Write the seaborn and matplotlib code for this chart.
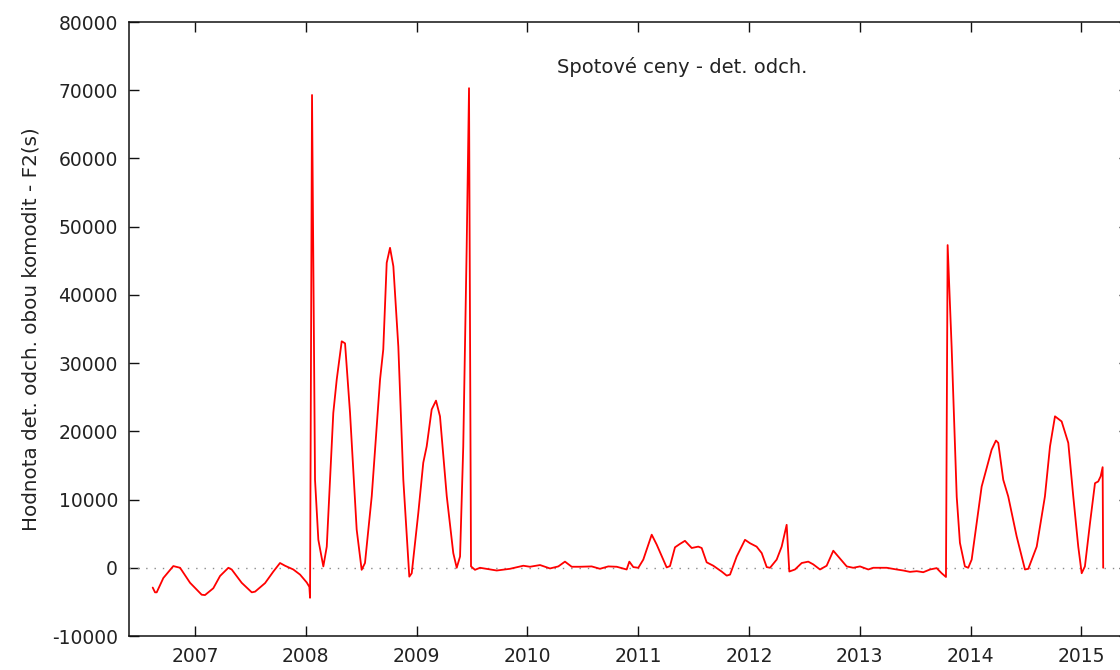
import numpy as np
import pandas as pd
import matplotlib
matplotlib.use("Agg")
import matplotlib.pyplot as plt
import seaborn as sns

# Time axis in decimal years and the detrended deviation F2(s)
years = [
    2006.618, 2006.639, 2006.654, 2006.714, 2006.804, 2006.865, 2006.955,
    2007.060, 2007.090, 2007.165, 2007.226, 2007.301, 2007.331, 2007.421,
    2007.512, 2007.542, 2007.632, 2007.707, 2007.767, 2007.812, 2007.887,
    2007.948, 2008.008, 2008.032, 2008.038, 2008.056, 2008.083, 2008.113,
    2008.158, 2008.189, 2008.248, 2008.279, 2008.324, 2008.354, 2008.399,
    2008.459, 2008.504, 2008.534, 2008.595, 2008.670, 2008.699, 2008.730,
    2008.760, 2008.790, 2008.835, 2008.880, 2008.934, 2008.956, 2009.015,
    2009.060, 2009.091, 2009.136, 2009.175, 2009.211, 2009.272, 2009.331,
    2009.362, 2009.392, 2009.421, 2009.452, 2009.473, 2009.491, 2009.527,
    2009.572, 2009.723, 2009.843, 2009.963, 2010.023, 2010.114, 2010.204,
    2010.279, 2010.339, 2010.400, 2010.475, 2010.580, 2010.655, 2010.730,
    2010.806, 2010.896, 2010.920, 2010.956, 2011.001, 2011.046, 2011.122,
    2011.167, 2011.257, 2011.287, 2011.332, 2011.377, 2011.422, 2011.483,
    2011.542, 2011.573, 2011.618, 2011.678, 2011.753, 2011.799, 2011.829,
    2011.889, 2011.964, 2012.009, 2012.069, 2012.115, 2012.160, 2012.190,
    2012.250, 2012.295, 2012.340, 2012.364, 2012.415, 2012.476, 2012.535,
    2012.580, 2012.641, 2012.701, 2012.761, 2012.806, 2012.882, 2012.941,
    2013.002, 2013.077, 2013.122, 2013.243, 2013.333, 2013.393, 2013.453,
    2013.514, 2013.573, 2013.634, 2013.694, 2013.739, 2013.778, 2013.793,
    2013.829, 2013.844, 2013.875, 2013.904, 2013.949, 2013.979, 2014.010,
    2014.055, 2014.100, 2014.145, 2014.190, 2014.229, 2014.250, 2014.295,
    2014.340, 2014.416, 2014.491, 2014.521, 2014.597, 2014.671, 2014.717,
    2014.762, 2014.822, 2014.882, 2014.927, 2014.972, 2015.003, 2015.032,
    2015.078, 2015.123, 2015.152, 2015.174, 2015.192, 2015.197,
]
f2_values = [
    -2900, -3600, -3600, -1500, 250, 0, -2200,
    -3950, -4000, -3000, -1200, 0, -250, -2200,
    -3600, -3500, -2250, -550, 700, 300, -250,
    -1000, -2150, -2800, -4400, 69300, 12900, 4100,
    200, 3100, 22700, 27600, 33200, 32900, 22700,
    5600, -300, 700, 10500, 27600, 32000, 44700,
    46900, 44200, 32400, 12900, -1300, -800, 8000,
    15400, 17800, 23200, 24500, 22200, 10500, 2150,
    0, 1650, 17800, 47100, 70300, 200, -300,
    0, -400, -150, 300, 150, 400, -100,
    200, 900, 150, 150, 200, -150, 200,
    150, -250, 900, 100, 0, 1200, 4850,
    3400, 50, 250, 3000, 3500, 3950, 2900,
    3100, 2900, 800, 300, -550, -1150, -1000,
    1650, 4100, 3600, 3100, 2150, 100, 0,
    1200, 3100, 6300, -550, -250, 700, 900,
    500, -250, 300, 2500, 1650, 200, 0,
    200, -250, 0, 0, -250, -400, -600,
    -500, -650, -250, -50, -800, -1350, 47300,
    32400, 25100, 10400, 3650, 200, 0, 1200,
    6550, 11900, 14600, 17300, 18650, 18300, 12900,
    10450, 4600, -250, -150, 3100, 10450, 17800,
    22200, 21450, 18300, 10450, 3100, -800, 200,
    6550, 12400, 12650, 13400, 14750, 0,
]

year_ticks = [2007, 2008, 2009, 2010, 2011, 2012, 2013, 2014, 2015]
value_ticks = [-10000, 0, 10000, 20000, 30000, 40000, 50000, 60000, 70000, 80000]

df = pd.DataFrame({"rok": years, "F2": f2_values})

sns.set_style("ticks")
plt.rcParams["font.family"] = ["DejaVu Sans"]
plt.rcParams["axes.linewidth"] = 1.1

fig = plt.figure(figsize=(11.2, 6.7), dpi=100)
# the right-hand frame sits just past the image edge
ax = fig.add_axes([129 / 1120, 34 / 670, (1129 - 129) / 1120, 614 / 670])

ax.axhline(0, color="#8a8a8a", lw=1.0, ls=(0, (1, 5)), zorder=1)
sns.lineplot(data=df, x="rok", y="F2", ax=ax, color="#ff0000", lw=1.3,
             sort=False, estimator=None, zorder=3)

ax.set_xlim(2006.404, 2015.43)
ax.set_ylim(-10000, 80000)
ax.set_xticks(year_ticks)
ax.set_xticklabels([str(y) for y in year_ticks])
ax.set_yticks(value_ticks)
ax.set_yticklabels([str(v) for v in value_ticks])

for s in ax.spines.values():
    s.set_visible(True)
    s.set_color("#111111")

ax.tick_params(axis="both", direction="in", length=7, width=1.0,
               colors="#111111", labelcolor="#222222", labelsize=13.5,
               top=True, right=True)
ax.tick_params(axis="y", pad=8)
ax.tick_params(axis="x", pad=8)

ax.set_xlabel("")
ax.set_ylabel("Hodnota det. odch. obou komodit - F2(s)", fontsize=14.3,
              color="#222222", labelpad=8)

ax.text(0.5535, 0.9267, "Spotové ceny - det. odch.", transform=ax.transAxes,
        ha="center", va="center", fontsize=14, color="#222222")

fig.savefig("out.png", dpi=100)
